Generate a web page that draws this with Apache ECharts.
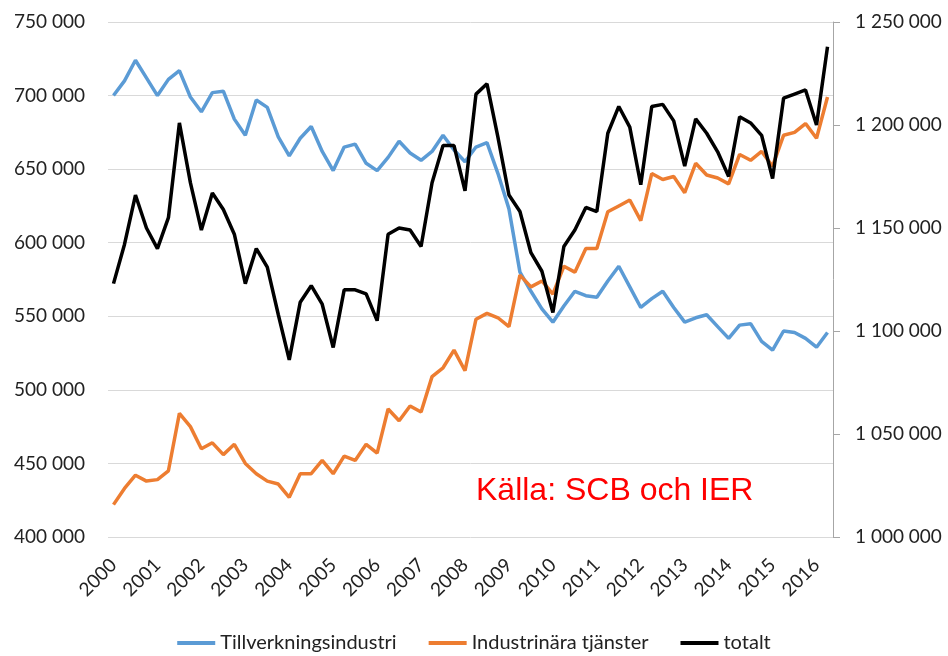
<!DOCTYPE html>
<html>
<head>
<meta charset="utf-8">
<script src="https://cdn.jsdelivr.net/npm/echarts@6/dist/echarts.min.js"></script>
<style>
  html, body { margin: 0; padding: 0; background: #fff; }
  #chart { width: 948px; height: 656px; }
</style>
</head>
<body>
<div id="chart"></div>
<script>
// quarterly series, 2000 K1 .. 2016 K2
var years = ['2000', '2001', '2002', '2003', '2004', '2005', '2006', '2007', '2008',
  '2009', '2010', '2011', '2012', '2013', '2014', '2015', '2016'];
var quartersInLastYear = 2;

var tillverkning = [
  700000, 710000, 724000, 712000, 700000, 711000, 717000, 699000,
  689000, 702000, 703000, 684000, 673000, 697000, 692000, 672000,
  659000, 671000, 679000, 662000, 649000, 665000, 667000, 654000,
  649000, 658000, 669000, 661000, 656000, 662000, 673000, 663000,
  655000, 665000, 668000, 647000, 623000, 580000, 567000, 555000,
  546000, 557000, 567000, 564000, 563000, 574000, 584000, 570000,
  556000, 562000, 567000, 556000, 546000, 549000, 551000, 543000,
  535000, 544000, 545000, 533000, 527000, 540000, 539000, 535000,
  529000, 539000
];

var tjanster = [
  422000, 433000, 442000, 438000, 439000, 445000, 484000, 475000,
  460000, 464000, 456000, 463000, 450000, 443000, 438000, 436000,
  427000, 443000, 443000, 452000, 443000, 455000, 452000, 463000,
  457000, 487000, 479000, 489000, 485000, 509000, 515000, 527000,
  513000, 548000, 552000, 549000, 543000, 578000, 570000, 574000,
  565000, 584000, 580000, 596000, 596000, 621000, 625000, 629000,
  615000, 647000, 643000, 645000, 634000, 654000, 646000, 644000,
  640000, 660000, 656000, 662000, 652000, 673000, 675000, 681000,
  671000, 699000
];

var totalt = [
  1123000, 1142000, 1166000, 1150000, 1140000, 1155000, 1201000, 1172000,
  1149000, 1167000, 1159000, 1147000, 1123000, 1140000, 1131000, 1108000,
  1086000, 1114000, 1122000, 1113000, 1092000, 1120000, 1120000, 1118000,
  1105000, 1147000, 1150000, 1149000, 1141000, 1172000, 1190000, 1190000,
  1168000, 1215000, 1220000, 1194000, 1166000, 1158000, 1138000, 1129000,
  1109000, 1141000, 1149000, 1160000, 1158000, 1196000, 1209000, 1199000,
  1171000, 1209000, 1210000, 1202000, 1180000, 1203000, 1196000, 1187000,
  1175000, 1204000, 1201000, 1195000, 1174000, 1213000, 1215000, 1217000,
  1200000, 1238000
];

var categories = [];
years.forEach(function (y, idx) {
  var n = idx === years.length - 1 ? quartersInLastYear : 4;
  for (var q = 1; q <= n; q++) {
    categories.push(y + ' K' + q);
  }
});

function spaced(v) {
  return String(v).replace(/\B(?=(\d{3})+(?!\d))/g, ' ');
}

var font = 'Lato, "Noto Sans", sans-serif';
var chart = echarts.init(document.getElementById('chart'));

chart.setOption({
  animation: false,
  color: ['#5b9bd5', '#ed7d31', '#000000'],
  grid: { left: 108, right: 115, top: 22, bottom: 119, outerBoundsMode: 'none' },
  legend: {
    left: 'center',
    top: 628,
    itemGap: 32,
    itemWidth: 38,
    itemHeight: 4,
    icon: 'rect',
    textStyle: { fontFamily: font, fontSize: 20, color: '#222' },
    data: ['Tillverkningsindustri', 'Industrinära tjänster', 'totalt']
  },
  xAxis: {
    type: 'category',
    data: categories,
    boundaryGap: true,
    axisLine: { show: false },
    axisTick: { show: false },
    axisLabel: {
      interval: 3,
      rotate: 45,
      // year labels sit a bit below the plot, as in the original
      margin: 25,
      fontFamily: font,
      fontSize: 19,
      color: '#222',
      formatter: function (v) { return v.split(' ')[0]; }
    }
  },
  yAxis: [{
    type: 'value',
    min: 400000,
    max: 750000,
    interval: 50000,
    axisLine: { show: false },
    axisTick: { show: false },
    splitLine: { lineStyle: { color: '#d9d9d9', width: 1 } },
    axisLabel: {
      margin: 23,
      fontFamily: font,
      fontSize: 19,
      color: '#222',
      formatter: spaced
    }
  }, {
    type: 'value',
    min: 1000000,
    max: 1250000,
    interval: 50000,
    position: 'right',
    axisLine: { show: true, lineStyle: { color: '#a6a6a6' } },
    axisTick: { show: true, inside: false, length: 7, lineStyle: { color: '#a6a6a6' } },
    splitLine: { show: false },
    axisLabel: {
      margin: 22,
      fontFamily: font,
      fontSize: 19,
      color: '#222',
      formatter: spaced
    }
  }],
  graphic: [{
    type: 'text',
    left: 476,
    top: 475,
    style: {
      text: 'Källa: SCB och IER',
      fill: '#ff0000',
      fontFamily: '"Liberation Sans", Arial, sans-serif',
      fontSize: 32
    }
  }],
  series: [{
    name: 'Tillverkningsindustri',
    type: 'line',
    yAxisIndex: 0,
    data: tillverkning,
    showSymbol: false,
    lineStyle: { width: 3.5, color: '#5b9bd5' },
    z: 2
  }, {
    name: 'Industrinära tjänster',
    type: 'line',
    yAxisIndex: 0,
    data: tjanster,
    showSymbol: false,
    lineStyle: { width: 3.5, color: '#ed7d31' },
    z: 3
  }, {
    name: 'totalt',
    type: 'line',
    yAxisIndex: 1,
    data: totalt,
    showSymbol: false,
    lineStyle: { width: 3.5, color: '#000000' },
    z: 4
  }]
});
</script>
</body>
</html>
